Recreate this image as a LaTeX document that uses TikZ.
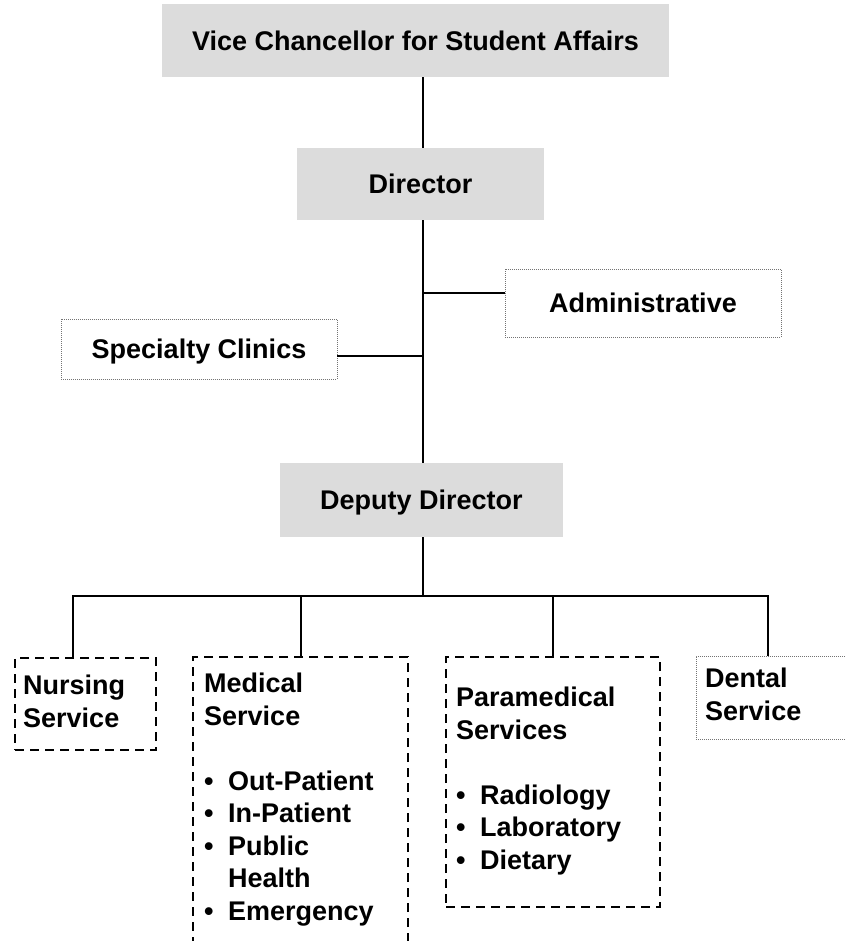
\documentclass[tikz,border=0pt]{standalone}
\usepackage{fontspec}
\setmainfont{Liberation Sans}
\usetikzlibrary{positioning}
\definecolor{boxgray}{RGB}{220,220,220}
\newcommand{\bul}{\makebox[24pt][l]{\textbullet}}
\tikzset{
  linea/.style={line width=2pt},
  titulo/.style={font=\bfseries\fontsize{27}{32.5}\selectfont},
  grisbox/.style={titulo, fill=boxgray, text height=19.5pt, text depth=0pt},
  dotbox/.style={titulo, draw=black!55, line width=0.9pt, dash pattern=on 1pt off 1pt, text height=19.5pt, text depth=0pt},
  dashbox/.style={draw, line width=2pt, dash pattern=on 9pt off 6pt, inner sep=0pt, outer sep=0pt, anchor=north west},
  finebox/.style={draw=black!55, line width=0.9pt, dash pattern=on 1pt off 1pt, inner sep=0pt, outer sep=0pt, anchor=north west},
  lista/.style={titulo, align=left, inner sep=0pt},
}
\begin{document}
\begin{tikzpicture}[x=1pt, y=-1pt]
        \useasboundingbox (0,0) rectangle (844,941);
        % Upper boxes
        \node[grisbox, minimum width=507pt, minimum height=73pt] (vc) at (415.5,40.5) {Vice Chancellor for Student Affairs};
        \node[grisbox, minimum width=247pt, minimum height=72pt] (dir) at (420.5,184) {Director};
        \node[dotbox, minimum width=276pt, minimum height=68pt] (admin) at (643,303) {Administrative};
        \node[dotbox, minimum width=276pt, minimum height=60pt] (clinics) at (199,349) {Specialty Clinics};
        \node[grisbox, minimum width=283pt, minimum height=74pt] (deputy) at (421.5,500) {Deputy Director};
        % Lower boxes
        \node[dashbox, minimum width=141pt, minimum height=92pt] (nursing) at (15,658) {};
        \node[dashbox, minimum width=215pt, minimum height=310pt] (medical) at (193,657) {};
        \node[dashbox, minimum width=214pt, minimum height=250pt] (para) at (446,657) {};
        \node[finebox, minimum width=170pt, minimum height=83pt] (dental) at (696,656) {};
        % Texts of the lower boxes
        \node[lista, below right=17pt and 8pt of nursing.north west] (nursingtxt) {Nursing\\Service};
        \node[lista, below right=16pt and 11pt of medical.north west] (medicaltxt)
          {Medical\\Service\\[32.5pt]\bul Out-Patient\\\bul In-Patient\\\bul Public\\\hspace*{24pt}Health\\\bul Emergency};
        \node[lista, below right=30pt and 10pt of para.north west] (paratxt)
          {Paramedical\\Services\\[32.5pt]\bul Radiology\\\bul Laboratory\\\bul Dietary};
        \node[lista, below right=12pt and 9pt of dental.north west] (dentaltxt) {Dental\\Service};
        % Connectors
        \coordinate (tronco) at (423,0);
        \coordinate (bus) at (423,596);
        \draw[linea] (vc.south -| tronco) -- (dir.north -| tronco);
        \draw[linea] (dir.south -| tronco) -- (deputy.north -| tronco);
        \draw[linea] ([yshift=10pt]admin.west) -- ([yshift=10pt]admin.west -| tronco);
        \draw[linea] ([yshift=-7pt]clinics.east) -- ([yshift=-7pt]clinics.east -| tronco);
        \draw[linea] (deputy.south -| tronco) -- (bus);
        \draw[linea] ([xshift=-12.5pt]nursing.north) |- (bus) -| ([xshift=-13pt]dental.north);
        \draw[linea] (medical.north) -- (medical.north |- bus);
        \draw[linea] (para.north) -- (para.north |- bus);
    \end{tikzpicture}
\end{document}
